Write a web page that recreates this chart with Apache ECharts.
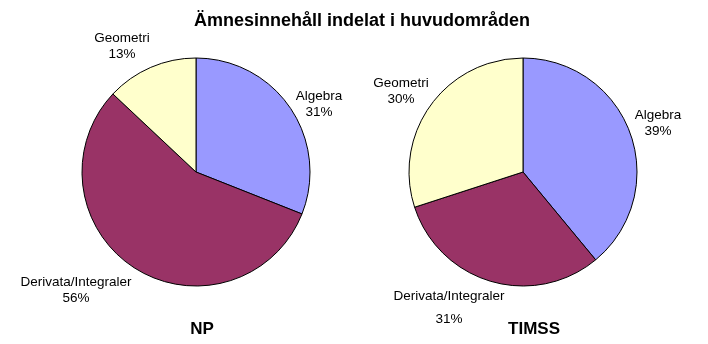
<!DOCTYPE html>
<html>
<head>
<meta charset="utf-8">
<script src="https://cdn.jsdelivr.net/npm/echarts@6/dist/echarts.min.js"></script>
<style>
  html, body { margin: 0; padding: 0; background: #fff; }
  #chart { width: 708px; height: 344px; }
</style>
</head>
<body>
<div id="chart"></div>
<script>
var categories = ['Algebra', 'Derivata/Integraler', 'Geometri'];
var npValues = [31, 56, 13];
var timssValues = [39, 31, 30];
var colors = ['#9999FF', '#993366', '#FFFFCC'];

// label placement (centre of each label block), like in the original sheet
var npLabelPos = [[319, 104], [76, 290], [122, 46]];
var timssLabelPos = [[658, 123], [449, 308], [401, 91]];

function makeData(values) {
  return categories.map(function (name, i) {
    return { name: name, value: values[i], itemStyle: { color: colors[i] } };
  });
}

var chart = echarts.init(document.getElementById('chart'));

function pieSeries(values, center, labelPos, splitIdx) {
  var data = makeData(values);
  if (splitIdx !== undefined) {
    // the percent sits further down, under the name
    data[splitIdx].label = { formatter: '{b}\n\n{c}%', lineHeight: 11.5 };
  }
  return {
    type: 'pie',
    center: center,
    radius: 114,
    startAngle: 90,
    clockwise: true,
    animation: false,
    silent: true,
    data: data,
    itemStyle: { borderColor: '#000', borderWidth: 1 },
    label: {
      show: true,
      position: 'outside',
      alignTo: 'none',
      overflow: 'none',
      formatter: '{b}\n{c}%',
      fontFamily: 'Liberation Sans, Arial, sans-serif',
      fontSize: 13.5,
      lineHeight: 16,
      color: '#000',
      align: 'center'
    },
    labelLine: { show: false },
    labelLayout: function (params) {
      var p = labelPos[params.dataIndex];
      return { x: p[0], y: p[1], align: 'center', verticalAlign: 'middle' };
    }
  };
}

var titleFont = { fontFamily: 'Liberation Sans, Arial, sans-serif', fontSize: 17, fontWeight: 'bold', color: '#000' };

var options = {
  backgroundColor: '#fff',
  title: [
    {
      text: 'Ämnesinnehåll indelat i huvudområden',
      left: 357, top: 7, textAlign: 'center',
      textStyle: Object.assign({}, titleFont, { fontSize: 18 })
    },
    { text: 'NP', left: 197, top: 316, textAlign: 'center', textStyle: titleFont },
    { text: 'TIMSS', left: 529, top: 316, textAlign: 'center', textStyle: titleFont }
  ],
  series: [
    pieSeries(npValues, [196, 172], npLabelPos),
    pieSeries(timssValues, [523, 172], timssLabelPos, 1)
  ]
};

chart.setOption(options);
</script>
</body>
</html>
